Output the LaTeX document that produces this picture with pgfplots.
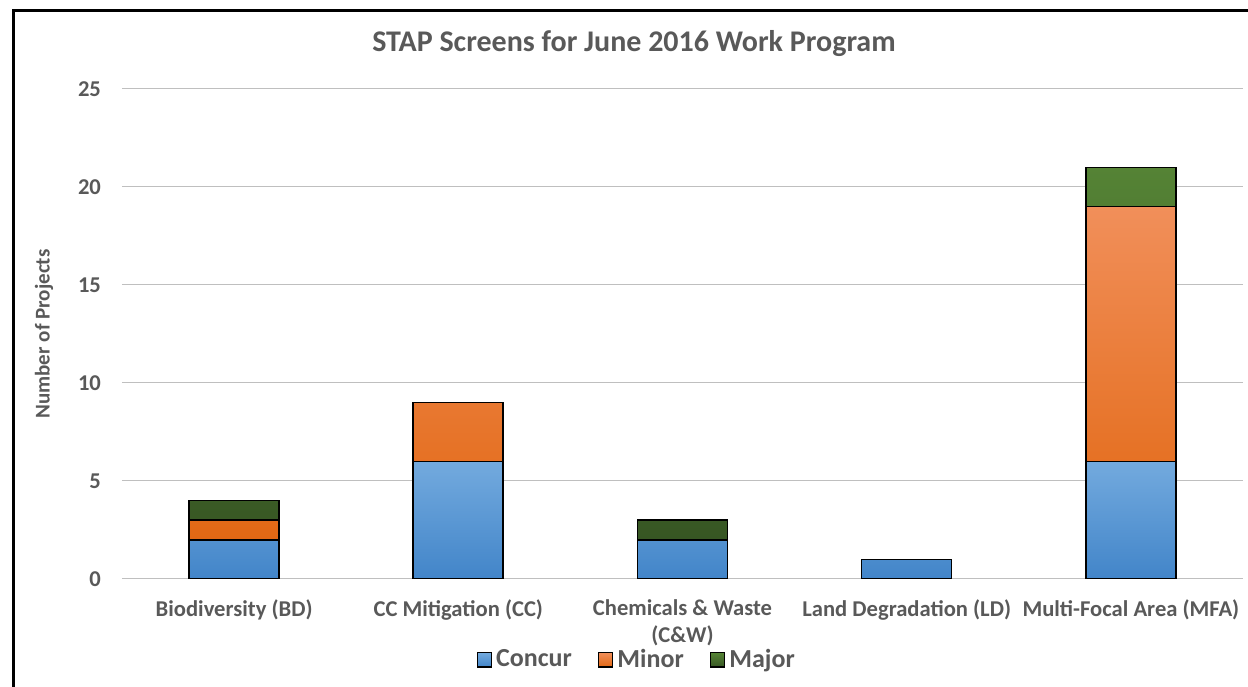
\documentclass[border=0pt]{standalone}
\usepackage{pgfplots}
\pgfplotsset{compat=1.18}
\usepackage{fontspec}
\setmainfont{Carlito}
\definecolor{txt}{HTML}{595959}
\definecolor{grid}{HTML}{DEDEDE}
\definecolor{bluetop}{HTML}{73AADE}
\definecolor{bluebot}{HTML}{4285C9}
\definecolor{orgtop}{HTML}{F18F5A}
\definecolor{orgmid}{HTML}{F47F2C}
\definecolor{orgbot}{HTML}{E26814}
\definecolor{grntop}{HTML}{558335}
\definecolor{grnbot}{HTML}{375623}
\pgfplotstableread{
x concur minor major
0 2 1 1
1 6 3 0
2 2 0 1
3 1 0 0
4 6 13 2
}\datatable
\begin{document}
\begin{tikzpicture}
\useasboundingbox (0,0) rectangle (624pt,343pt);
\draw[line width=1.5pt] (6.5pt,-5pt) -- (6.5pt,337.5pt) -- (630pt,337.5pt);
\node[font=\bfseries\fontsize{15pt}{18pt}\selectfont, text=txt] at (317pt,321pt) {STAP Screens for June 2016 Work Program};
\begin{axis}[
  at={(61pt,53.5pt)}, anchor=south west,
  scale only axis, width=560.5pt, height=245pt,
  ybar stacked, bar width=45pt,
  xmin=-0.5, xmax=4.5, ymin=0, ymax=25,
  xtick=data,
  xticklabels={Biodiversity (BD), CC Mitigation (CC), {Chemicals \& Waste\\(C\&W)}, Land Degradation (LD), Multi-Focal Area (MFA)},
  ytick={0,5,10,15,20,25},
  /pgf/number format/assume math mode=true,
  xmajorgrids=false, ymajorgrids=true, grid style={grid, line width=0.5pt},
  axis line style={draw=none},
  major tick length=0pt, tick style={draw=none},
  tick label style={font=\bfseries\fontsize{11.3pt}{13.5pt}\selectfont, text=txt},
  xticklabel style={align=center, yshift=-7pt},
  yticklabel style={xshift=-7pt},
  ylabel={Number of Projects},
  ylabel style={font=\bfseries\fontsize{10.5pt}{12pt}\selectfont, text=txt, at={(axis description cs:-0.0696,0.5)}, anchor=center},
  legend columns=3,
  legend style={at={(0.46,-0.165)}, anchor=center, draw=none, fill=none,
    font=\bfseries\fontsize{13pt}{15pt}\selectfont, text=txt,
    /tikz/every even column/.style={column sep=11pt}},
  legend image code/.code={\draw[#1, draw=black, line width=0.6pt] (-1.5pt,-3.6pt) rectangle (5.7pt,3.6pt);},
  every axis plot/.append style={draw=black, line width=0.8pt},
]
\addplot[top color=bluetop, bottom color=bluebot] table[x=x, y=concur] {\datatable};
\addplot[top color=orgtop, middle color=orgmid, bottom color=orgbot] table[x=x, y=minor] {\datatable};
\addplot[top color=grntop, bottom color=grnbot] table[x=x, y=major] {\datatable};
\legend{Concur, Minor, Major}
\end{axis}
\end{tikzpicture}
\end{document}
